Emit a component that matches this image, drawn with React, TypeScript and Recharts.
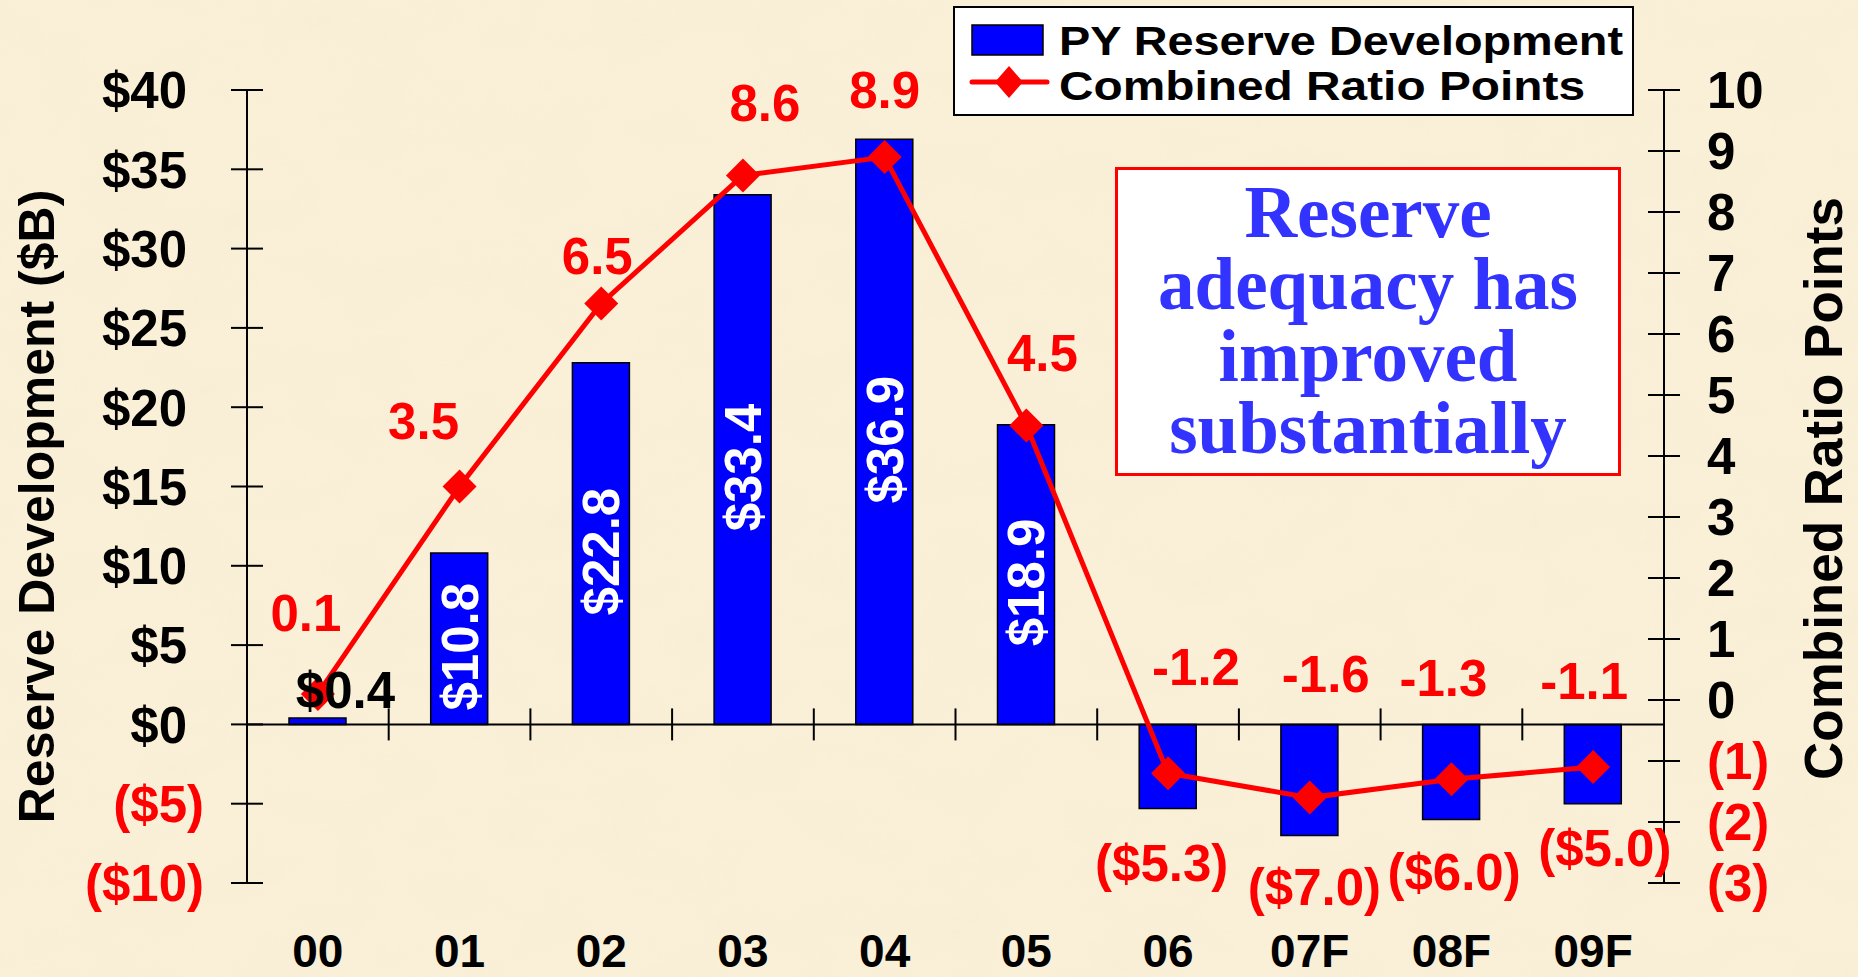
import {
  ComposedChart,
  Bar,
  Line,
  XAxis,
  YAxis,
  ReferenceLine,
  LabelList,
  Legend,
} from "recharts";

// chart values
const years = ["00", "01", "02", "03", "04", "05", "06", "07F", "08F", "09F"];
const reserveDev = [0.4, 10.8, 22.8, 33.4, 36.9, 18.9, -5.3, -7.0, -6.0, -5.0];
const ratioPoints = [0.1, 3.5, 6.5, 8.6, 8.9, 4.5, -1.2, -1.6, -1.3, -1.1];
const leftTicks = [-10, -5, 0, 5, 10, 15, 20, 25, 30, 35, 40];
const rightTicks = [-3, -2, -1, 0, 1, 2, 3, 4, 5, 6, 7, 8, 9, 10];
const noteLines = ["Reserve", "adequacy has", "improved", "substantially"];

// hand placed label nudges (px), like the original slide
const ratioLabelOffsets = [
  [-12, -81], [-36, -66], [-4, -48], [22, -73], [0, -67],
  [16, -73], [28, -107], [16, -124], [-8, -102], [-9, -86],
];
const negLabelOffsets: Record<number, number[]> = {
  6: [-6, 54],
  7: [5, 51],
  8: [3, 52],
  9: [12, 44],
};

const data = years.map((year, i) => ({
  year,
  reserve: reserveDev[i],
  ratio: ratioPoints[i],
}));

const W = 1858;
const H = 977;
const PLOT_LEFT = 247;
const PLOT_RIGHT = 1664;
const PLOT_TOP = 90;
const PLOT_BOTTOM = 883;
const BAND = (PLOT_RIGHT - PLOT_LEFT) / years.length;
// $0 line of the left axis (-10..40)
const ZERO_Y = PLOT_TOP + ((PLOT_BOTTOM - PLOT_TOP) * 40) / 50;

const SANS = '"Liberation Sans", Arial, Helvetica, sans-serif';
const SERIF = '"Liberation Serif", "Times New Roman", serif';
const RED = "#FF0000";
const BLUE = "#0000FF";

const fmtMoney = (v: number) => (v < 0 ? `($${Math.abs(v)})` : `$${v}`);
const fmtPts = (v: number) => (v < 0 ? `(${Math.abs(v)})` : `${v}`);

const renderLeftTick = (props: any) => {
  const { x, y, payload } = props;
  const v = payload.value;
  const neg = v < 0;
  return (
    <g>
      <line x1={x} x2={x + 32} y1={y} y2={y} stroke="#000" strokeWidth={2} />
      <text
        x={neg ? x - 27 : x - 44}
        y={y}
        dy="0.36em"
        textAnchor="end"
        fill={neg ? RED : "#000"}
        fontSize={51}
        fontWeight="bold"
        fontFamily={SANS}
      >
        {fmtMoney(v)}
      </text>
    </g>
  );
};

const renderRightTick = (props: any) => {
  const { x, y, payload } = props;
  const v = payload.value;
  const neg = v < 0;
  return (
    <g>
      <line x1={x - 32} x2={x} y1={y} y2={y} stroke="#000" strokeWidth={2} />
      <text
        x={x + 27}
        y={y}
        dy="0.36em"
        textAnchor="start"
        fill={neg ? RED : "#000"}
        fontSize={51}
        fontWeight="bold"
        fontFamily={SANS}
      >
        {fmtPts(v)}
      </text>
    </g>
  );
};

// category label at the bottom + divider ticks crossing the $0 line
const renderXTick = (props: any) => {
  const { x, y, payload, index } = props;
  return (
    <g>
      {index === 0 && (
        <line x1={x - BAND / 2} x2={x - BAND / 2} y1={ZERO_Y - 16} y2={ZERO_Y + 16} stroke="#000" strokeWidth={2} />
      )}
      <line x1={x + BAND / 2} x2={x + BAND / 2} y1={ZERO_Y - 16} y2={ZERO_Y + 16} stroke="#000" strokeWidth={2} />
      <text
        x={x}
        y={y + 84}
        textAnchor="middle"
        fill="#000"
        fontSize={46}
        fontWeight="bold"
        fontFamily={SANS}
      >
        {payload.value}
      </text>
    </g>
  );
};

const renderBarLabel = (props: any) => {
  const vb = props.viewBox ?? props;
  const { x, y, width, height } = vb;
  const index = props.index;
  const value = reserveDev[index];
  const cx = x + width / 2;
  const top = Math.min(y, y + height);
  const bottom = Math.max(y, y + height);
  const common = {
    fontSize: 51,
    fontWeight: "bold",
    fontFamily: SANS,
    textAnchor: "middle" as const,
  };
  if (value < 0) {
    const [dx, dy] = negLabelOffsets[index] ?? [0, 50];
    return (
      <text x={cx + dx} y={bottom + dy} dy="0.36em" fill={RED} {...common}>
        {`($${Math.abs(value).toFixed(1)})`}
      </text>
    );
  }
  if (bottom - top < 30) {
    return (
      <text x={cx + 28} y={top - 28} dy="0.36em" fill="#000" {...common}>
        {`$${value.toFixed(1)}`}
      </text>
    );
  }
  const cy = (top + bottom) / 2 + 8;
  return (
    <text
      x={cx}
      y={cy}
      dy="0.36em"
      fill="#fff"
      transform={`rotate(-90 ${cx} ${cy})`}
      {...common}
    >
      {`$${value.toFixed(1)}`}
    </text>
  );
};

const renderRatioLabel = (props: any) => {
  const vb = props.viewBox ?? props;
  const px = vb.x ?? props.x;
  const py = vb.y ?? props.y;
  const index = props.index;
  const [dx, dy] = ratioLabelOffsets[index];
  return (
    <text
      x={px + dx}
      y={py + dy}
      dy="0.36em"
      textAnchor="middle"
      fill={RED}
      fontSize={51}
      fontWeight="bold"
      fontFamily={SANS}
    >
      {ratioPoints[index].toFixed(1)}
    </text>
  );
};

const renderDiamond = (props: any) => {
  const { cx, cy, index } = props;
  if (cx == null || cy == null) return <g key={`d-${index}`} />;
  const s = 17;
  return (
    <polygon
      key={`d-${index}`}
      points={`${cx},${cy - s} ${cx + s},${cy} ${cx},${cy + s} ${cx - s},${cy}`}
      fill={RED}
    />
  );
};

const renderLegend = (props: any) => {
  // bars first, then the line
  const payload = [...(props.payload || [])].sort(
    (a: any, b: any) => (a.type === "line" ? 1 : 0) - (b.type === "line" ? 1 : 0)
  );
  return (
    <svg width={681} height={110} style={{ display: "block" }}>
      <rect x={1} y={1} width={679} height={108} fill="#fff" stroke="#000" strokeWidth={2} />
      {payload.map((entry: any, i: number) => {
        const base = i === 0 ? 49 : 94;
        const mid = i === 0 ? 34 : 76;
        return (
          <g key={`leg-${i}`}>
            {entry.type === "line" ? (
              <g>
                <line x1={19} x2={94} y1={mid} y2={mid} stroke={RED} strokeWidth={5} strokeLinecap="round" />
                <polygon points={`56,${mid - 16} 70,${mid} 56,${mid + 16} 42,${mid}`} fill={RED} />
              </g>
            ) : (
              <rect x={19} y={19} width={71} height={30} fill={BLUE} stroke="#000" strokeWidth={1.5} />
            )}
            <text
              x={106}
              y={base}
              fontSize={40}
              fontWeight="bold"
              fontFamily={SANS}
              fill="#000"
              textLength={i === 0 ? 564 : 526}
              lengthAdjust="spacingAndGlyphs"
            >
              {entry.value}
            </text>
          </g>
        );
      })}
    </svg>
  );
};

export default function App() {
  return (
    <div
      style={{
        position: "absolute",
        left: 0,
        top: 0,
        width: W,
        height: H,
        background: "#FAF0D8",
        overflow: "hidden",
      }}
    >
      {/* parchment mottling */}
      <svg width={W} height={H} style={{ position: "absolute", left: 0, top: 0 }}>
        <filter id="parch" x="0" y="0" width="100%" height="100%">
          <feTurbulence type="fractalNoise" baseFrequency="0.012 0.02" numOctaves={4} seed={7} />
          <feColorMatrix
            type="matrix"
            values="0 0 0 0 0.85  0 0 0 0 0.78  0 0 0 0 0.6  0 0 0 -0.9 0.55"
          />
        </filter>
        <rect width={W} height={H} filter="url(#parch)" opacity={0.35} />
      </svg>
      <ComposedChart
        width={W}
        height={H}
        data={data}
        margin={{ top: PLOT_TOP, right: 0, bottom: 0, left: 47 }}
        style={{ position: "absolute", left: 0, top: 0 }}
      >
        <XAxis
          dataKey="year"
          height={H - PLOT_BOTTOM}
          axisLine={false}
          tickLine={false}
          tickSize={0}
          tickMargin={0}
          interval={0}
          tick={renderXTick}
        />
        <YAxis
          yAxisId="left"
          orientation="left"
          width={200}
          domain={[-10, 40]}
          ticks={leftTicks}
          interval={0}
          allowDataOverflow
          axisLine={{ stroke: "#000", strokeWidth: 2 }}
          tickLine={false}
          tickSize={16}
          tickMargin={0}
          tick={renderLeftTick}
          label={{
            content: (p: any) => {
              const vb = p.viewBox;
              const tx = vb.x + 7;
              const ty = vb.y + vb.height / 2 + 20;
              return (
                <text
                  x={tx}
                  y={ty}
                  textAnchor="middle"
                  transform={`rotate(-90 ${tx} ${ty})`}
                  fontSize={50}
                  fontWeight="bold"
                  fontFamily={SANS}
                  fill="#000"
                >
                  Reserve Development ($B)
                </text>
              );
            },
          }}
        />
        <YAxis
          yAxisId="right"
          orientation="right"
          width={W - PLOT_RIGHT}
          domain={[-3, 10]}
          ticks={rightTicks}
          interval={0}
          allowDataOverflow
          axisLine={{ stroke: "#000", strokeWidth: 2 }}
          tickLine={false}
          tickSize={16}
          tickMargin={0}
          tick={renderRightTick}
          label={{
            content: (p: any) => {
              const vb = p.viewBox;
              const tx = vb.x + 178;
              const ty = vb.y + vb.height / 2 + 2;
              return (
                <text
                  x={tx}
                  y={ty}
                  textAnchor="middle"
                  transform={`rotate(-90 ${tx} ${ty})`}
                  fontSize={53}
                  fontWeight="bold"
                  fontFamily={SANS}
                  fill="#000"
                >
                  Combined Ratio Points
                </text>
              );
            },
          }}
        />
        <Legend
          layout="horizontal"
          verticalAlign="middle"
          align="center"
          wrapperStyle={{ position: "absolute", left: 953, top: 6, width: 681, height: 110 }}
          content={renderLegend}
        />
        <ReferenceLine yAxisId="left" y={0} stroke="#000" strokeWidth={2} />
        <Bar
          yAxisId="left"
          dataKey="reserve"
          name="PY Reserve Development"
          legendType="rect"
          fill={BLUE}
          stroke="#000"
          strokeWidth={1.5}
          barSize={57}
          isAnimationActive={false}
        >
          <LabelList dataKey="reserve" content={renderBarLabel} />
        </Bar>
        <Line
          yAxisId="right"
          dataKey="ratio"
          name="Combined Ratio Points"
          legendType="line"
          type="linear"
          stroke={RED}
          strokeWidth={5}
          dot={renderDiamond}
          activeDot={false}
          isAnimationActive={false}
        >
          <LabelList dataKey="ratio" content={renderRatioLabel} />
        </Line>
      </ComposedChart>
      <div
        style={{
          position: "absolute",
          left: 1115,
          top: 167,
          width: 506,
          height: 309,
          boxSizing: "border-box",
          background: "#fff",
          border: `3px solid ${RED}`,
        }}
      >
        <svg width={500} height={303} style={{ display: "block" }}>
          {noteLines.map((t, i) => (
            <text
              key={t}
              x={250}
              y={67 + i * 72}
              textAnchor="middle"
              fontSize={73}
              fontWeight="bold"
              fontFamily={SERIF}
              fill="#3333FF"
            >
              {t}
            </text>
          ))}
        </svg>
      </div>
    </div>
  );
}
